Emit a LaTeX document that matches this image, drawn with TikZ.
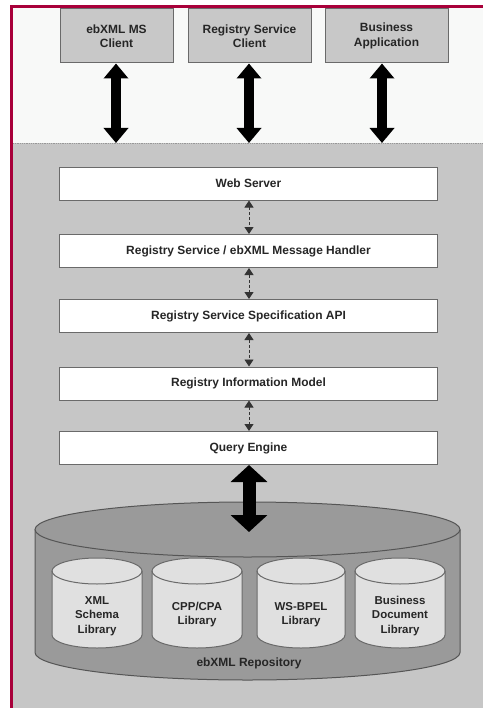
\documentclass[tikz,border=0pt]{standalone}
\usepackage{fontspec}
\setmainfont{Liberation Sans}
\usetikzlibrary{arrows.meta}
\definecolor{redline}{HTML}{A8003A}
\definecolor{topbg}{HTML}{F8F9F8}
\definecolor{bggray}{HTML}{C6C6C6}
\definecolor{boxgray}{HTML}{C8C8C8}
\definecolor{edge}{HTML}{6A6A6A}
\definecolor{cylgray}{HTML}{9A9A9A}
\definecolor{cyllight}{HTML}{E0E0E0}
\definecolor{txt}{HTML}{262626}
\newcommand\drawcylinder[7]{% cx, top-centre y, bottom-centre y, rx, ry, fill, edge
  \fill[#6] ({#1-#4},{-#2}) -- ({#1-#4},{-#3})
     arc[start angle=180,end angle=360,x radius=#4,y radius=#5]
     -- ({#1+#4},{-#2})
     arc[start angle=0,end angle=180,x radius=#4,y radius=#5] -- cycle;
  \draw[#7,line width=1bp] ({#1-#4},{-#2}) -- ({#1-#4},{-#3})
     arc[start angle=180,end angle=360,x radius=#4,y radius=#5]
     -- ({#1+#4},{-#2});
  \draw[#7,line width=1bp] (#1,{-#2}) ellipse[x radius=#4,y radius=#5];
}
\tikzset{
  lbl/.style={font=\bfseries\fontsize{12}{14.5}\selectfont, text=txt, align=center, inner sep=0pt},
  client/.style={lbl, draw=edge, fill=boxgray, line width=1bp, minimum height=54bp},
  layer/.style={lbl, draw=edge, fill=white, line width=1bp, minimum width=377bp, minimum height=33bp},
  bigarrow/.style={line width=10bp, {Triangle[width=24bp,length=15bp]}-{Triangle[width=24bp,length=15bp]}},
  hugearrow/.style={line width=13bp, {Triangle[width=36bp,length=17bp]}-{Triangle[width=36bp,length=17bp]}},
  smallarrow/.style={line width=0.9bp, draw=black!80, densely dashed, {Triangle[width=9bp,length=7bp]}-{Triangle[width=9bp,length=7bp]}},
  cyltext/.style={font=\bfseries\fontsize{11.5}{14.5}\selectfont, text=txt, align=center, inner sep=0pt}
}
\begin{document}
\begin{tikzpicture}[x=1bp,y=1bp]
\useasboundingbox (0,0) rectangle (483,-708);
\fill[white] (0,0) rectangle (483,-708);
% backgrounds
\fill[topbg] (13,-8) rectangle (483,-143);
\fill[bggray] (13,-143) rectangle (483,-708);
\draw[edge!70, densely dotted, line width=0.8bp] (13,-143) -- (483,-143);
% red frame
\fill[redline] (10,-5) rectangle (483,-8);
\fill[redline] (10,-5) rectangle (13,-708);

% clients
\node[client, minimum width=113bp] (ms) at (116.5,-36) {ebXML MS\\Client};
\node[client, minimum width=123bp] (rsc) at (249.5,-36) {Registry Service\\Client};
\node[client, minimum width=123bp] (ba) at (386.5,-36) {Business\\Application};
\coordinate (g1) at (116,-143);
\coordinate (g2) at (249,-143);
\coordinate (g3) at (382,-143);
\draw[bigarrow] (ms.south -| g1) -- (g1);
\draw[bigarrow] (rsc.south -| g2) -- (g2);
\draw[bigarrow] (ba.south -| g3) -- (g3);

% layers
\node[layer] (web) at (248.5,-183.5) {Web Server};
\node[layer] (msg) at (248.5,-251) {Registry Service / ebXML Message Handler};
\node[layer] (api) at (248.5,-316) {Registry Service Specification API};
\node[layer] (rim) at (248.5,-383.5) {Registry Information Model};
\node[layer] (qe) at (248.5,-448) {Query Engine};
\coordinate (ax) at (249,0);
\draw[smallarrow] (web.south -| ax) -- (msg.north -| ax);
\draw[smallarrow] (msg.south -| ax) -- (api.north -| ax);
\draw[smallarrow] (api.south -| ax) -- (rim.north -| ax);
\draw[smallarrow] (rim.south -| ax) -- (qe.north -| ax);

% repository
\drawcylinder{247.5}{529.5}{652.5}{212.5}{27.5}{cylgray}{edge!80!black}
\coordinate (repotop) at (249,-532);
\draw[hugearrow] (qe.south -| ax) -- (repotop);

\drawcylinder{97}{571}{635}{45}{13}{cyllight}{edge}
\drawcylinder{197}{571}{635}{45}{13}{cyllight}{edge}
\drawcylinder{301}{571}{635}{44}{13}{cyllight}{edge}
\drawcylinder{400}{571}{635}{45}{13}{cyllight}{edge}
\node[cyltext] (xsl) at (97,-616) {XML\\Schema\\Library};
\node[cyltext] (cpp) at (197,-614.5) {CPP/CPA\\Library};
\node[cyltext] (bpel) at (301,-614.5) {WS-BPEL\\Library};
\node[cyltext] (bdl) at (400,-616) {Business\\Document\\Library};
\node[lbl] (repo) at (249,-663) {ebXML Repository};
\end{tikzpicture}
\end{document}
